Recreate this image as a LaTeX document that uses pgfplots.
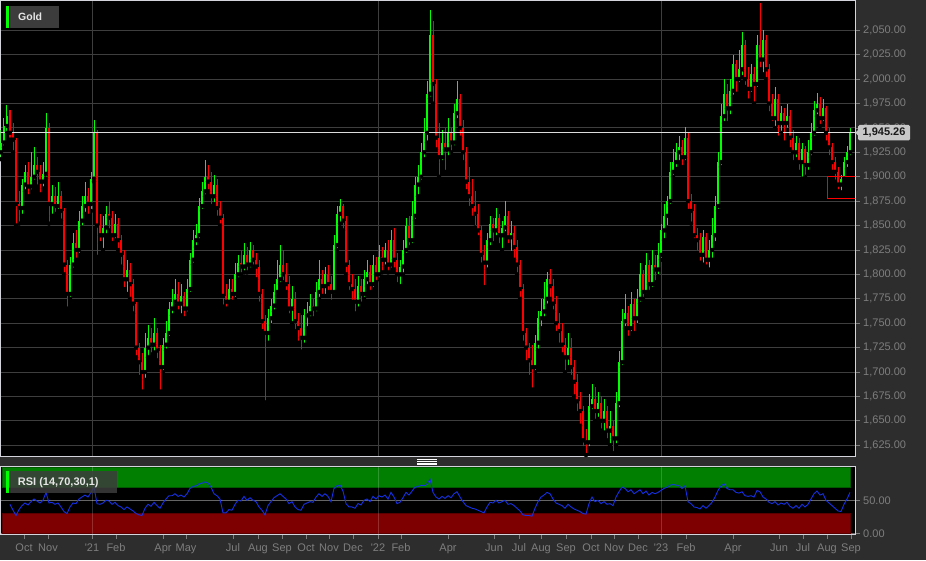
\documentclass[border=0pt]{standalone}
\usepackage{fontspec}
\setmainfont{Liberation Sans}
\usepackage{pgfplots}
\usepackage{pgfplotstable}
\pgfplotsset{compat=1.18}
\definecolor{bgc}{HTML}{2D2D2D}
\definecolor{gridc}{HTML}{3E3E3E}
\definecolor{bordc}{HTML}{D4D4DC}
\definecolor{labc}{HTML}{7E7E7E}
\definecolor{upc}{HTML}{00FF00}
\definecolor{dnc}{HTML}{FF0000}
\definecolor{rsic}{HTML}{1430E6}
\definecolor{bandg}{HTML}{007F00}
\definecolor{bandgd}{HTML}{005A00}
\definecolor{bandr}{HTML}{7F0000}
\definecolor{bandrd}{HTML}{5A0000}
\definecolor{boxc}{HTML}{3C3C3C}
\definecolor{pricebox}{HTML}{C8C8C8}

\pgfplotstableread{
x o h l c r
1 1925 1948 1918 1935 nan
4 1935 1960 1930 1952 nan
7 1952 1973 1945 1962 nan
10 1962 1968 1938 1945 44
13 1945 1955 1925 1938 35
16 1938 1940 1850 1872 27
19 1872 1885 1852 1868 36
22 1868 1898 1860 1892 42
25 1892 1912 1885 1905 46
28 1905 1915 1880 1890 43
31 1890 1925 1885 1900 48
34 1900 1930 1895 1912 52
37 1912 1920 1890 1905 49
40 1905 1912 1882 1895 46
43 1895 1915 1888 1903 50
46 1903 1965 1898 1950 62
49 1950 1955 1852 1872 46
52 1872 1892 1860 1880 47
55 1880 1890 1862 1870 44
58 1870 1895 1865 1880 46
61 1880 1885 1855 1865 40
64 1865 1868 1800 1810 33
67 1810 1815 1765 1780 30
70 1780 1818 1775 1810 40
73 1810 1842 1805 1832 46
76 1832 1845 1815 1825 45
79 1825 1865 1820 1855 52
82 1855 1880 1848 1870 55
85 1870 1895 1862 1880 58
88 1880 1888 1860 1872 55
91 1872 1905 1865 1898 62
94 1898 1958 1895 1945 70
97 1945 1948 1818 1850 45
100 1850 1862 1832 1840 44
103 1840 1860 1825 1848 46
106 1848 1870 1840 1862 50
109 1862 1875 1845 1858 49
112 1858 1865 1832 1840 44
115 1840 1862 1835 1852 47
118 1852 1858 1825 1835 42
121 1835 1840 1808 1820 40
124 1820 1825 1785 1795 36
127 1795 1815 1780 1805 40
130 1805 1812 1775 1790 37
133 1790 1795 1760 1770 34
136 1770 1772 1715 1725 30
139 1725 1730 1695 1710 28
142 1710 1720 1680 1700 27
145 1700 1740 1692 1725 38
148 1725 1748 1715 1735 44
151 1735 1745 1718 1728 41
154 1728 1755 1720 1740 47
157 1740 1745 1712 1722 42
160 1722 1728 1680 1705 38
163 1705 1735 1700 1728 46
166 1728 1752 1722 1740 52
169 1740 1772 1735 1765 57
172 1765 1785 1758 1772 57
175 1772 1795 1768 1780 60
178 1780 1792 1762 1770 56
181 1770 1790 1758 1778 58
184 1778 1782 1755 1765 55
187 1765 1795 1760 1785 60
190 1785 1822 1780 1815 68
193 1815 1845 1810 1835 71
196 1835 1852 1828 1840 72
199 1840 1878 1835 1870 75
202 1870 1895 1865 1885 76
205 1885 1917 1880 1900 78
208 1900 1912 1885 1895 76
211 1895 1905 1870 1880 70
214 1880 1902 1872 1892 60
217 1892 1898 1858 1868 57
220 1868 1875 1850 1858 52
223 1858 1862 1767 1778 31
226 1778 1790 1765 1772 31
229 1772 1795 1770 1785 36
232 1785 1795 1772 1780 35
235 1780 1812 1775 1800 44
238 1800 1820 1795 1812 50
241 1812 1825 1800 1808 49
244 1808 1832 1802 1820 56
247 1820 1828 1802 1810 50
250 1810 1833 1805 1825 54
253 1825 1830 1808 1815 50
256 1815 1822 1795 1808 48
259 1808 1815 1770 1780 40
262 1780 1785 1742 1752 35
265 1752 1758 1669 1740 28
268 1740 1765 1730 1755 42
271 1755 1775 1748 1768 48
274 1768 1790 1762 1782 54
277 1782 1815 1778 1795 57
280 1795 1830 1790 1810 60
283 1810 1825 1792 1800 56
286 1800 1812 1782 1790 52
289 1790 1798 1758 1765 45
292 1765 1788 1750 1775 48
295 1775 1782 1742 1752 40
298 1752 1760 1730 1745 36
301 1745 1758 1721 1735 35
304 1735 1765 1728 1758 44
307 1758 1772 1745 1760 46
310 1760 1780 1755 1768 48
313 1768 1775 1755 1765 47
316 1765 1792 1760 1782 55
319 1782 1815 1775 1795 60
322 1795 1805 1778 1788 56
325 1788 1808 1778 1800 60
328 1800 1810 1782 1790 56
331 1790 1798 1772 1782 48
334 1782 1840 1778 1830 68
337 1830 1870 1825 1862 72
340 1862 1877 1852 1870 73
343 1870 1872 1845 1855 64
346 1855 1860 1800 1810 45
349 1810 1815 1782 1790 40
352 1790 1800 1772 1785 40
355 1785 1795 1760 1772 38
358 1772 1798 1765 1788 45
361 1788 1795 1770 1780 43
364 1780 1805 1775 1795 50
367 1795 1815 1788 1802 52
370 1802 1810 1782 1790 48
373 1790 1820 1785 1810 56
376 1810 1818 1792 1800 52
379 1800 1830 1795 1818 57
382 1818 1828 1802 1815 55
385 1815 1832 1808 1825 58
388 1825 1835 1802 1810 52
391 1810 1845 1805 1835 62
394 1835 1848 1805 1815 55
397 1815 1822 1790 1800 45
400 1800 1815 1788 1808 47
403 1808 1835 1800 1825 54
406 1825 1858 1820 1850 62
409 1850 1860 1828 1835 58
412 1835 1875 1830 1860 64
415 1860 1900 1855 1892 70
418 1892 1912 1880 1900 71
421 1900 1935 1895 1925 73
424 1925 1960 1918 1945 72
427 1945 1998 1935 1985 75
430 1985 2071 1980 2045 82
433 2045 2060 1975 1995 62
436 1995 2000 1928 1940 55
439 1940 1955 1900 1920 52
442 1920 1948 1915 1935 56
445 1935 1950 1905 1928 53
448 1928 1960 1920 1945 57
451 1945 1950 1925 1935 54
454 1935 1975 1930 1965 60
457 1965 1998 1958 1980 63
460 1980 1985 1940 1950 55
463 1950 1958 1915 1925 48
466 1925 1930 1885 1895 42
469 1895 1910 1868 1880 40
472 1880 1898 1858 1870 38
475 1870 1885 1848 1862 37
478 1862 1872 1838 1845 35
481 1845 1850 1810 1820 33
484 1820 1830 1787 1812 31
487 1812 1842 1805 1835 40
490 1835 1860 1828 1852 47
493 1852 1858 1832 1845 46
496 1845 1868 1838 1858 50
499 1858 1862 1830 1840 46
502 1840 1855 1825 1848 48
505 1848 1875 1842 1860 50
508 1860 1865 1830 1838 44
511 1838 1855 1822 1842 45
514 1842 1850 1815 1828 42
517 1828 1835 1800 1810 38
520 1810 1815 1775 1785 34
523 1785 1790 1730 1740 28
526 1740 1745 1710 1725 27
529 1725 1730 1695 1712 27
532 1712 1728 1682 1705 26
535 1705 1738 1700 1730 38
538 1730 1762 1722 1755 48
541 1755 1775 1745 1762 55
544 1762 1792 1755 1775 58
547 1775 1802 1768 1795 62
550 1795 1806 1775 1788 60
553 1788 1795 1762 1770 52
556 1770 1778 1740 1750 46
559 1750 1760 1728 1742 44
562 1742 1750 1718 1728 42
565 1728 1735 1700 1715 38
568 1715 1740 1705 1725 44
571 1725 1735 1695 1705 40
574 1705 1712 1675 1690 37
577 1690 1698 1658 1670 35
580 1670 1680 1645 1660 33
583 1660 1665 1622 1630 30
586 1630 1642 1615 1628 29
589 1628 1678 1622 1665 45
592 1665 1688 1660 1672 55
595 1672 1685 1650 1660 48
598 1660 1680 1652 1668 50
601 1668 1675 1640 1650 45
604 1650 1672 1638 1660 48
607 1660 1665 1630 1640 44
610 1640 1660 1625 1645 45
613 1645 1650 1617 1632 42
616 1632 1680 1625 1668 55
619 1668 1722 1662 1710 63
622 1710 1765 1705 1752 70
625 1752 1780 1745 1760 68
628 1760 1768 1735 1745 63
631 1745 1782 1740 1770 66
634 1770 1775 1740 1755 60
637 1755 1785 1748 1775 63
640 1775 1812 1770 1800 66
643 1800 1805 1775 1782 60
646 1782 1822 1778 1810 64
649 1810 1815 1782 1790 58
652 1790 1825 1785 1810 62
655 1810 1820 1792 1805 60
658 1805 1832 1798 1820 62
661 1820 1852 1815 1845 65
664 1845 1872 1835 1860 68
667 1860 1880 1848 1875 70
670 1875 1915 1870 1905 73
673 1905 1928 1900 1915 74
676 1915 1935 1908 1925 73
679 1925 1942 1915 1930 72
682 1930 1938 1910 1920 68
685 1920 1951 1915 1940 72
688 1940 1945 1865 1875 48
691 1875 1882 1852 1865 45
694 1865 1872 1835 1840 40
697 1840 1848 1822 1835 39
700 1835 1842 1812 1820 37
703 1820 1845 1810 1838 42
706 1838 1842 1808 1815 38
709 1815 1835 1805 1825 42
712 1825 1858 1815 1840 47
715 1840 1880 1832 1870 55
718 1870 1925 1865 1915 65
721 1915 1975 1910 1962 72
724 1962 2000 1955 1985 75
727 1985 1995 1955 1970 68
730 1970 2000 1962 1988 66
733 1988 2025 1982 2015 66
736 2015 2020 1985 2000 62
739 2000 2030 1995 2010 61
742 2010 2048 2002 2035 63
745 2035 2040 1992 2000 57
748 2000 2012 1978 1990 56
751 1990 2015 1985 2005 57
754 2005 2012 1975 1995 55
757 1995 2045 1990 2035 65
760 2035 2078 2010 2020 63
763 2020 2050 2005 2040 55
766 2040 2045 2000 2010 52
769 2010 2015 1965 1975 47
772 1975 1985 1955 1960 45
775 1960 1992 1950 1980 48
778 1980 1985 1940 1955 43
781 1955 1972 1945 1965 46
784 1965 1970 1935 1955 44
787 1955 1975 1948 1962 47
790 1962 1968 1928 1940 41
793 1940 1948 1915 1925 38
796 1925 1942 1918 1935 42
799 1935 1940 1905 1915 38
802 1915 1935 1898 1928 44
805 1928 1932 1900 1912 40
808 1912 1938 1905 1925 44
811 1925 1955 1920 1945 52
814 1945 1978 1940 1968 60
817 1968 1986 1962 1975 64
820 1975 1982 1952 1960 58
823 1960 1980 1955 1970 60
826 1970 1972 1935 1945 50
829 1945 1950 1920 1930 46
832 1930 1935 1905 1915 42
835 1915 1920 1895 1905 38
838 1905 1910 1885 1892 34
841 1892 1902 1884 1898 33
844 1898 1920 1895 1915 44
847 1915 1932 1908 1925 52
850 1925 1950 1920 1945 62
}\gold

\pgfplotsset{
  numfmt/.style={/pgf/number format/fixed, /pgf/number format/fixed zerofill,
    /pgf/number format/precision=2, /pgf/number format/1000 sep={,},
    /pgf/number format/assume math mode=true},
}

\begin{document}
\begin{tikzpicture}[x=1pt,y=1pt]
\fill[bgc] (0,0) rectangle (926,560);

% ---------------- main price panel ----------------
\begin{axis}[
  at={(0.5pt,104pt)}, anchor=south west, scale only axis,
  width=854.5pt, height=455pt,
  xmin=0.5, xmax=855, ymin=1614, ymax=2080,
  axis background/.style={fill=black},
  axis line style={bordc, line width=1pt},
  xtick={92,378,661}, xticklabels={}, xtick style={draw=none},
  xmajorgrids, ymajorgrids,
  grid style={gridc, line width=0.9pt},
  ytick={1625,1650,...,2050},
  scaled y ticks=false,
  ytick pos=right, yticklabel pos=right,
  tick align=outside, major tick length=5pt,
  ytick style={labc, line width=0.8pt},
  yticklabel style={numfmt, font=\fontsize{11}{13}\selectfont, text=labc,
    anchor=west, inner sep=0pt, xshift=3pt},
  clip=true,
]
% wicks
\addplot[only marks, mark=none, forget plot,
  restrict expr to domain={\thisrow{c}-\thisrow{o}}{0:5000},
  error bars/.cd, y dir=plus, y explicit, error mark=none,
  error bar style={upc, line width=1pt}]
  table[x=x, y=l, y error expr=\thisrow{h}-\thisrow{l}] {\gold};
\addplot[only marks, mark=none, forget plot,
  restrict expr to domain={\thisrow{c}-\thisrow{o}}{-5000:-0.01},
  error bars/.cd, y dir=plus, y explicit, error mark=none,
  error bar style={dnc, line width=1pt}]
  table[x=x, y=l, y error expr=\thisrow{h}-\thisrow{l}] {\gold};
% bodies
\addplot[only marks, mark=none, forget plot,
  restrict expr to domain={\thisrow{c}-\thisrow{o}}{0:5000},
  error bars/.cd, y dir=plus, y explicit, error mark=none,
  error bar style={upc, line width=2.6pt}]
  table[x=x, y=o, y error expr=\thisrow{c}-\thisrow{o}] {\gold};
\addplot[only marks, mark=none, forget plot,
  restrict expr to domain={\thisrow{c}-\thisrow{o}}{-5000:-0.01},
  error bars/.cd, y dir=plus, y explicit, error mark=none,
  error bar style={dnc, line width=2.6pt}]
  table[x=x, y=c, y error expr=\thisrow{o}-\thisrow{c}] {\gold};
% last price line
\addplot[color={rgb,255:red,220;green,220;blue,220}, line width=1pt, forget plot]
  coordinates {(0.5,1945.26) (855,1945.26)};
% red box
\addplot[dnc, line width=1pt, forget plot]
  coordinates {(858,1900) (827,1900) (827,1878) (858,1878)};
\end{axis}

% ---------------- RSI panel ----------------
\begin{axis}[
  at={(0.5pt,26pt)}, anchor=south west, scale only axis,
  width=854.5pt, height=68pt,
  xmin=0.5, xmax=855, ymin=-1, ymax=102,
  axis background/.style={fill=black},
  axis line style={bordc, line width=1pt},
  ytick={0,50}, scaled y ticks=false,
  ytick pos=right, yticklabel pos=right,
  ymajorgrids, grid style={gridc!80!white, line width=0.9pt},
  xtick={24,48,92,116,163,186,233,258,282,306,329,353,378,401,448,494,519,541,566,591,614,638,661,686,733,779,803,827,851},
  xticklabels={Oct,Nov,\textquotesingle21,Feb,Apr,May,Jul,Aug,Sep,Oct,Nov,Dec,\textquotesingle22,Feb,Apr,Jun,Jul,Aug,Sep,Oct,Nov,Dec,\textquotesingle23,Feb,Apr,Jun,Jul,Aug,Sep},
  xtick pos=bottom,
  tick align=outside, major tick length=5pt,
  tick style={labc, line width=0.8pt},
  yticklabel style={numfmt, font=\fontsize{11}{13}\selectfont, text=labc,
    anchor=west, inner sep=0pt, xshift=3pt},
  xticklabel style={font=\fontsize{11}{13}\selectfont, text=labc,
    anchor=north, inner sep=0pt},
  xticklabel shift=4.5pt,
  clip=true,
]
\fill[bandg, draw=bandgd, line width=0.8pt] (axis cs:2.5,70) rectangle (axis cs:850.5,100);
\fill[bandr, draw=bandrd, line width=0.8pt] (axis cs:2.5,0) rectangle (axis cs:850.5,30);
\draw[white, opacity=0.18, line width=0.9pt] (axis cs:92,-1) -- (axis cs:92,102);
\draw[white, opacity=0.18, line width=0.9pt] (axis cs:378,-1) -- (axis cs:378,102);
\draw[white, opacity=0.18, line width=0.9pt] (axis cs:661,-1) -- (axis cs:661,102);
\addplot[rsic, line width=0.9pt, forget plot] table[x=x, y=r] {\gold};
\end{axis}

% ---------------- overlays ----------------
% Gold label
\fill[boxc] (9.7,532) rectangle (59,554);
\fill[upc] (6,532) rectangle (9.3,554);
\node[anchor=west, inner sep=0pt, text={rgb,255:red,230;green,230;blue,230}] at (18,543)
  {\fontsize{10.5}{12}\selectfont\bfseries Gold};
% RSI label
\fill[boxc, opacity=0.85] (9.5,67.5) rectangle (117,88.7);
\fill[upc] (6,67.5) rectangle (9.3,88.7);
\node[anchor=west, inner sep=0pt, text={rgb,255:red,230;green,230;blue,230}] at (17.7,77.8)
  {\fontsize{11}{13}\selectfont\bfseries RSI (14,70,30,1)};
% panel grip
\foreach \yy in {100.3,98.7,97,95.3} {\draw[white, line width=0.8pt] (417,\yy) -- (437,\yy);}
% price label
\fill[pricebox, rounded corners=1.5pt] (858,419.5) rectangle (910,435);
\fill[pricebox] (855.5,427.3) -- (858.5,430.5) -- (858.5,424.1) -- cycle;
\node[anchor=center, inner sep=0pt, text={rgb,255:red,25;green,25;blue,25}] at (884,427.3)
  {\fontsize{11}{13}\selectfont\bfseries 1,945.26};

\pgfresetboundingbox
\path (0,0) rectangle (926,560);
\end{tikzpicture}
\end{document}
